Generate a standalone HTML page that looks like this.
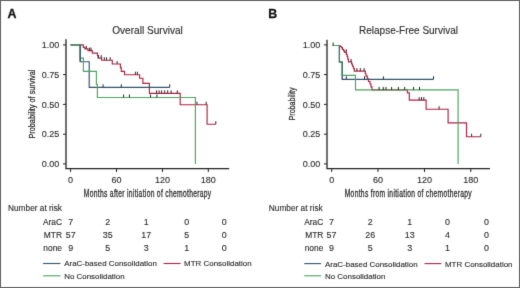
<!DOCTYPE html>
<html><head><meta charset="utf-8"><title>Survival</title><style>html,body{margin:0;padding:0;background:#fff;width:520px;height:288px;overflow:hidden;position:relative}body{font-family:"Liberation Sans", sans-serif}</style></head><body>
<svg width="520" height="288" viewBox="0 0 520 288" style="position:absolute;left:0;top:0;font-family:'Liberation Sans', sans-serif;will-change:transform">
<defs><filter id="soft" x="0" y="0" width="520" height="288" filterUnits="userSpaceOnUse" color-interpolation-filters="sRGB"><feConvolveMatrix order="3" kernelMatrix="0.01 0.08 0.01 0.08 0.64 0.08 0.01 0.08 0.01" divisor="1" edgeMode="duplicate"/></filter></defs>
<g filter="url(#soft)">
<rect x="0" y="0" width="520" height="288" fill="#fff"/>
<text x="7.4" y="17.9" font-size="12.4" text-anchor="start" font-weight="bold" fill="#111"  stroke="#111" stroke-width="0.3">A</text>
<text x="147.5" y="34.2" font-size="10.1" text-anchor="middle" font-weight="normal" fill="#2b2b2b" stroke="#2b2b2b" stroke-width="0.12" >Overall Survival</text>
<path d="M66.0,40.0 V168.6 H228.5" fill="none" stroke="#222" stroke-width="1.3" stroke-linecap="square"/>
<path d="M63.0,44.9 H66.0 M63.0,74.6 H66.0 M63.0,104.4 H66.0 M63.0,134.2 H66.0 M63.0,163.9 H66.0" fill="none" stroke="#222" stroke-width="1.0" />
<path d="M70.6,168.6 V172.0 M116.5,168.6 V172.0 M162.5,168.6 V172.0 M208.3,168.6 V172.0" fill="none" stroke="#222" stroke-width="1.0" />
<text x="59.2" y="48.0" font-size="9.0" text-anchor="end" font-weight="normal" fill="#2b2b2b" stroke="#2b2b2b" stroke-width="0.12" >1.00</text>
<text x="59.2" y="77.69999999999999" font-size="9.0" text-anchor="end" font-weight="normal" fill="#2b2b2b" stroke="#2b2b2b" stroke-width="0.12" >0.75</text>
<text x="59.2" y="107.5" font-size="9.0" text-anchor="end" font-weight="normal" fill="#2b2b2b" stroke="#2b2b2b" stroke-width="0.12" >0.50</text>
<text x="59.2" y="137.29999999999998" font-size="9.0" text-anchor="end" font-weight="normal" fill="#2b2b2b" stroke="#2b2b2b" stroke-width="0.12" >0.25</text>
<text x="59.2" y="167.0" font-size="9.0" text-anchor="end" font-weight="normal" fill="#2b2b2b" stroke="#2b2b2b" stroke-width="0.12" >0.00</text>
<text x="70.6" y="183.0" font-size="9.0" text-anchor="middle" font-weight="normal" fill="#2b2b2b" stroke="#2b2b2b" stroke-width="0.12" >0</text>
<text x="116.5" y="183.0" font-size="9.0" text-anchor="middle" font-weight="normal" fill="#2b2b2b" stroke="#2b2b2b" stroke-width="0.12" >60</text>
<text x="162.5" y="183.0" font-size="9.0" text-anchor="middle" font-weight="normal" fill="#2b2b2b" stroke="#2b2b2b" stroke-width="0.12" >120</text>
<text x="208.3" y="183.0" font-size="9.0" text-anchor="middle" font-weight="normal" fill="#2b2b2b" stroke="#2b2b2b" stroke-width="0.12" >180</text>
<text transform="translate(147.5,197.1) scale(0.66,1)" x="0" y="0" font-size="10.2" text-anchor="middle" fill="#2b2b2b" stroke="#2b2b2b" stroke-width="0.3" textLength="193.0" lengthAdjust="spacing">Months after initiation of chemotherapy</text>
<text transform="translate(35.4,104.1) rotate(-90)" x="0" y="0" font-size="9.6" text-anchor="middle" fill="#2b2b2b" stroke="#2b2b2b" stroke-width="0.25" textLength="69" lengthAdjust="spacingAndGlyphs">Probability of survival</text>
<path d="M70.6,44.9 H83.3 V47.3 H84.9 V48.9 H88 V50.6 H92.3 V53.1 H97.5 V55.6 H98.2 V58.1 H101.6 V60.2 H112.3 V64 H120.4 V67.6 H121.3 V71.3 H124.5 V74.7 H139.6 V78.2 H142.9 V83.4 H149.4 V93.3 H180.2 V104.7 H207.1 V124.2 H215.8" fill="none" stroke="#b02042" stroke-width="1.15" />
<path d="M86.3,48.9 V45.9" fill="none" stroke="#2a2a2a" stroke-width="1.0" />
<path d="M89.6,50.6 V47.6 M91.0,50.6 V47.6" fill="none" stroke="#2a2a2a" stroke-width="1.0" />
<path d="M98.4,58.1 V55.1 M101.2,58.1 V55.1" fill="none" stroke="#2a2a2a" stroke-width="1.0" />
<path d="M104.3,60.2 V57.2 M106.6,60.2 V57.2 M110.2,60.2 V57.2" fill="none" stroke="#2a2a2a" stroke-width="1.0" />
<path d="M117.1,64 V61.0" fill="none" stroke="#2a2a2a" stroke-width="1.0" />
<path d="M135.4,74.7 V71.7 M137.4,74.7 V71.7" fill="none" stroke="#2a2a2a" stroke-width="1.0" />
<path d="M156.6,93.3 V90.3 M159.1,93.3 V90.3 M161.6,93.3 V90.3 M164.7,93.3 V90.3 M167.7,93.3 V90.3 M171.1,93.3 V90.3 M177.3,93.3 V90.3" fill="none" stroke="#2a2a2a" stroke-width="1.0" />
<path d="M197.0,104.7 V101.7 M206.2,104.7 V101.7" fill="none" stroke="#2a2a2a" stroke-width="1.0" />
<path d="M215.8,124.2 V121.2" fill="none" stroke="#2a2a2a" stroke-width="1.0" />
<path d="M70.6,44.9 H80.2 V61.7 H89.2 V87.3 H169.7" fill="none" stroke="#30536f" stroke-width="1.15" />
<path d="M103.1,87.3 V84.3 M121.3,87.3 V84.3 M169.7,87.3 V84.3" fill="none" stroke="#2a2a2a" stroke-width="1.0" />
<path d="M70.6,44.9 H80.2 V58.1 H83.4 V71.3 H96.4 V84.5 H97.4 V97.5 H195.4 V163.9" fill="none" stroke="#4ea261" stroke-width="1.15" />
<path d="M123.6,97.5 V94.5 M129.4,97.5 V94.5 M150.5,97.5 V94.5 M156.9,97.5 V94.5" fill="none" stroke="#2a2a2a" stroke-width="1.0" />
<path d="M80.2,44.9 V61.7" fill="none" stroke="#30536f" stroke-width="1.15" />
<text x="8.0" y="211.3" font-size="8.3" text-anchor="start" font-weight="normal" fill="#2b2b2b" stroke="#2b2b2b" stroke-width="0.12" >Number at risk</text>
<text x="62.0" y="224.5" font-size="8.4" text-anchor="end" font-weight="normal" fill="#2b2b2b" stroke="#2b2b2b" stroke-width="0.12" >AraC</text>
<text x="70.8" y="224.5" font-size="8.9" text-anchor="middle" font-weight="normal" fill="#2b2b2b" stroke="#2b2b2b" stroke-width="0.12" >7</text>
<text x="107.8" y="224.5" font-size="8.9" text-anchor="middle" font-weight="normal" fill="#2b2b2b" stroke="#2b2b2b" stroke-width="0.12" >2</text>
<text x="146.2" y="224.5" font-size="8.9" text-anchor="middle" font-weight="normal" fill="#2b2b2b" stroke="#2b2b2b" stroke-width="0.12" >1</text>
<text x="186.6" y="224.5" font-size="8.9" text-anchor="middle" font-weight="normal" fill="#2b2b2b" stroke="#2b2b2b" stroke-width="0.12" >0</text>
<text x="224.29999999999998" y="224.5" font-size="8.9" text-anchor="middle" font-weight="normal" fill="#2b2b2b" stroke="#2b2b2b" stroke-width="0.12" >0</text>
<text x="62.0" y="237.5" font-size="8.4" text-anchor="end" font-weight="normal" fill="#2b2b2b" stroke="#2b2b2b" stroke-width="0.12" >MTR</text>
<text x="70.8" y="237.5" font-size="8.9" text-anchor="middle" font-weight="normal" fill="#2b2b2b" stroke="#2b2b2b" stroke-width="0.12" >57</text>
<text x="107.8" y="237.5" font-size="8.9" text-anchor="middle" font-weight="normal" fill="#2b2b2b" stroke="#2b2b2b" stroke-width="0.12" >35</text>
<text x="146.2" y="237.5" font-size="8.9" text-anchor="middle" font-weight="normal" fill="#2b2b2b" stroke="#2b2b2b" stroke-width="0.12" >17</text>
<text x="186.6" y="237.5" font-size="8.9" text-anchor="middle" font-weight="normal" fill="#2b2b2b" stroke="#2b2b2b" stroke-width="0.12" >5</text>
<text x="224.29999999999998" y="237.5" font-size="8.9" text-anchor="middle" font-weight="normal" fill="#2b2b2b" stroke="#2b2b2b" stroke-width="0.12" >0</text>
<text x="62.0" y="250.5" font-size="8.4" text-anchor="end" font-weight="normal" fill="#2b2b2b" stroke="#2b2b2b" stroke-width="0.12" >none</text>
<text x="70.8" y="250.5" font-size="8.9" text-anchor="middle" font-weight="normal" fill="#2b2b2b" stroke="#2b2b2b" stroke-width="0.12" >9</text>
<text x="107.8" y="250.5" font-size="8.9" text-anchor="middle" font-weight="normal" fill="#2b2b2b" stroke="#2b2b2b" stroke-width="0.12" >5</text>
<text x="146.2" y="250.5" font-size="8.9" text-anchor="middle" font-weight="normal" fill="#2b2b2b" stroke="#2b2b2b" stroke-width="0.12" >3</text>
<text x="186.6" y="250.5" font-size="8.9" text-anchor="middle" font-weight="normal" fill="#2b2b2b" stroke="#2b2b2b" stroke-width="0.12" >1</text>
<text x="224.29999999999998" y="250.5" font-size="8.9" text-anchor="middle" font-weight="normal" fill="#2b2b2b" stroke="#2b2b2b" stroke-width="0.12" >0</text>
<path d="M43.1,263.5 H60.4" fill="none" stroke="#30536f" stroke-width="1.1" />
<text x="64.2" y="266.4" font-size="7.95" text-anchor="start" font-weight="normal" fill="#2b2b2b" stroke="#2b2b2b" stroke-width="0.12" >AraC-based Consolidation</text>
<path d="M163.6,263.5 H180.6" fill="none" stroke="#b02042" stroke-width="1.1" />
<text x="184.1" y="266.4" font-size="7.95" text-anchor="start" font-weight="normal" fill="#2b2b2b" stroke="#2b2b2b" stroke-width="0.12" >MTR Consolidation</text>
<path d="M43.1,275.8 H60.4" fill="none" stroke="#4ea261" stroke-width="1.1" />
<text x="64.2" y="278.5" font-size="7.95" text-anchor="start" font-weight="normal" fill="#2b2b2b" stroke="#2b2b2b" stroke-width="0.12" >No Consolidation</text>
<text x="268.3" y="17.9" font-size="12.4" text-anchor="start" font-weight="bold" fill="#111"  stroke="#111" stroke-width="0.3">B</text>
<text x="408.5" y="34.2" font-size="10.0" text-anchor="middle" font-weight="normal" fill="#2b2b2b" stroke="#2b2b2b" stroke-width="0.12" >Relapse-Free Survival</text>
<path d="M327.0,40.5 V168.6 H489.3" fill="none" stroke="#222" stroke-width="1.3" stroke-linecap="square"/>
<path d="M324.0,44.9 H327.0 M324.0,74.6 H327.0 M324.0,104.4 H327.0 M324.0,134.2 H327.0 M324.0,163.9 H327.0" fill="none" stroke="#222" stroke-width="1.0" />
<path d="M331.7,168.6 V172.0 M378.0,168.6 V172.0 M424.5,168.6 V172.0 M470.8,168.6 V172.0" fill="none" stroke="#222" stroke-width="1.0" />
<text x="320.2" y="48.0" font-size="9.0" text-anchor="end" font-weight="normal" fill="#2b2b2b" stroke="#2b2b2b" stroke-width="0.12" >1.00</text>
<text x="320.2" y="77.69999999999999" font-size="9.0" text-anchor="end" font-weight="normal" fill="#2b2b2b" stroke="#2b2b2b" stroke-width="0.12" >0.75</text>
<text x="320.2" y="107.5" font-size="9.0" text-anchor="end" font-weight="normal" fill="#2b2b2b" stroke="#2b2b2b" stroke-width="0.12" >0.50</text>
<text x="320.2" y="137.29999999999998" font-size="9.0" text-anchor="end" font-weight="normal" fill="#2b2b2b" stroke="#2b2b2b" stroke-width="0.12" >0.25</text>
<text x="320.2" y="167.0" font-size="9.0" text-anchor="end" font-weight="normal" fill="#2b2b2b" stroke="#2b2b2b" stroke-width="0.12" >0.00</text>
<text x="331.7" y="183.0" font-size="9.0" text-anchor="middle" font-weight="normal" fill="#2b2b2b" stroke="#2b2b2b" stroke-width="0.12" >0</text>
<text x="378.0" y="183.0" font-size="9.0" text-anchor="middle" font-weight="normal" fill="#2b2b2b" stroke="#2b2b2b" stroke-width="0.12" >60</text>
<text x="424.5" y="183.0" font-size="9.0" text-anchor="middle" font-weight="normal" fill="#2b2b2b" stroke="#2b2b2b" stroke-width="0.12" >120</text>
<text x="470.8" y="183.0" font-size="9.0" text-anchor="middle" font-weight="normal" fill="#2b2b2b" stroke="#2b2b2b" stroke-width="0.12" >180</text>
<text transform="translate(408.2,197.1) scale(0.66,1)" x="0" y="0" font-size="10.2" text-anchor="middle" fill="#2b2b2b" stroke="#2b2b2b" stroke-width="0.3" textLength="192.4" lengthAdjust="spacing">Months from initiation of chemotherapy</text>
<text transform="translate(294.9,103.9) rotate(-90)" x="0" y="0" font-size="9.6" text-anchor="middle" fill="#2b2b2b" stroke="#2b2b2b" stroke-width="0.25" textLength="33.0" lengthAdjust="spacingAndGlyphs">Probability</text>
<path d="M332.1,45.5 H340.2 V46.5 H341.3 V47.6 H342.4 V49.3 H343.6 V50.9 H344.7 V52.3 H346.3 V54.3 H347.1 V56.4 H347.7 V59 H348.4 V61.9 H351.6 V64 H352.5 V66.2 H353.5 V68.5 H354.3 V71.1 H365.3 V73.7 H366 V76.1 H367.3 V78.8 H368.5 V81.5 H370 V84 H371 V86.8 H372 V89.9 H407.4 V92.8 H409.3 V100.1 H426.1 V109.2 H448.1 V122.8 H466.5 V136.7 H480.8" fill="none" stroke="#b02042" stroke-width="1.15" />
<path d="M346.3,52.3 V49.3" fill="none" stroke="#2a2a2a" stroke-width="1.0" />
<path d="M351.1,61.9 V58.9" fill="none" stroke="#2a2a2a" stroke-width="1.0" />
<path d="M356.9,71.1 V68.1 M360.3,71.1 V68.1 M364.1,71.1 V68.1" fill="none" stroke="#2a2a2a" stroke-width="1.0" />
<path d="M419.2,100.1 V97.1 M421.5,100.1 V97.1 M423.8,100.1 V97.1" fill="none" stroke="#2a2a2a" stroke-width="1.0" />
<path d="M439.1,109.2 V106.2" fill="none" stroke="#2a2a2a" stroke-width="1.0" />
<path d="M471.6,136.7 V133.7 M480.8,136.7 V133.7" fill="none" stroke="#2a2a2a" stroke-width="1.0" />
<path d="M332.1,45.5 H339.4 V62 H342.2 V79.3 H433.5" fill="none" stroke="#30536f" stroke-width="1.15" />
<path d="M346.3,79.3 V76.3 M364.5,79.3 V76.3 M383.4,79.3 V76.3 M433.5,79.3 V76.3" fill="none" stroke="#2a2a2a" stroke-width="1.0" />
<path d="M332.1,45.5 H339.4 V62 H342.2 V75.4 H355.5 V89.9 H458.1 V163.9" fill="none" stroke="#4ea261" stroke-width="1.15" />
<path d="M333.2,45.5 V42.5" fill="none" stroke="#2a2a2a" stroke-width="1.0" />
<path d="M379.1,89.9 V86.9 M383.3,89.9 V86.9 M386.0,89.9 V86.9 M391.6,89.9 V86.9 M398.3,89.9 V86.9 M404.7,89.9 V86.9 M413.5,89.9 V86.9 M419.5,89.9 V86.9" fill="none" stroke="#2a2a2a" stroke-width="1.0" />
<path d="M339.4,45.5 V62 H342.2 V79.3" fill="none" stroke="#30536f" stroke-width="1.0" opacity="0.6"/>
<text x="268.8" y="211.3" font-size="8.3" text-anchor="start" font-weight="normal" fill="#2b2b2b" stroke="#2b2b2b" stroke-width="0.12" >Number at risk</text>
<text x="323.3" y="224.5" font-size="8.4" text-anchor="end" font-weight="normal" fill="#2b2b2b" stroke="#2b2b2b" stroke-width="0.12" >AraC</text>
<text x="331.5" y="224.5" font-size="8.9" text-anchor="middle" font-weight="normal" fill="#2b2b2b" stroke="#2b2b2b" stroke-width="0.12" >7</text>
<text x="370.2" y="224.5" font-size="8.9" text-anchor="middle" font-weight="normal" fill="#2b2b2b" stroke="#2b2b2b" stroke-width="0.12" >2</text>
<text x="409.8" y="224.5" font-size="8.9" text-anchor="middle" font-weight="normal" fill="#2b2b2b" stroke="#2b2b2b" stroke-width="0.12" >1</text>
<text x="447.5" y="224.5" font-size="8.9" text-anchor="middle" font-weight="normal" fill="#2b2b2b" stroke="#2b2b2b" stroke-width="0.12" >0</text>
<text x="486.5" y="224.5" font-size="8.9" text-anchor="middle" font-weight="normal" fill="#2b2b2b" stroke="#2b2b2b" stroke-width="0.12" >0</text>
<text x="323.3" y="237.5" font-size="8.4" text-anchor="end" font-weight="normal" fill="#2b2b2b" stroke="#2b2b2b" stroke-width="0.12" >MTR</text>
<text x="331.5" y="237.5" font-size="8.9" text-anchor="middle" font-weight="normal" fill="#2b2b2b" stroke="#2b2b2b" stroke-width="0.12" >57</text>
<text x="370.2" y="237.5" font-size="8.9" text-anchor="middle" font-weight="normal" fill="#2b2b2b" stroke="#2b2b2b" stroke-width="0.12" >26</text>
<text x="409.8" y="237.5" font-size="8.9" text-anchor="middle" font-weight="normal" fill="#2b2b2b" stroke="#2b2b2b" stroke-width="0.12" >13</text>
<text x="447.5" y="237.5" font-size="8.9" text-anchor="middle" font-weight="normal" fill="#2b2b2b" stroke="#2b2b2b" stroke-width="0.12" >4</text>
<text x="486.5" y="237.5" font-size="8.9" text-anchor="middle" font-weight="normal" fill="#2b2b2b" stroke="#2b2b2b" stroke-width="0.12" >0</text>
<text x="323.3" y="250.5" font-size="8.4" text-anchor="end" font-weight="normal" fill="#2b2b2b" stroke="#2b2b2b" stroke-width="0.12" >none</text>
<text x="331.5" y="250.5" font-size="8.9" text-anchor="middle" font-weight="normal" fill="#2b2b2b" stroke="#2b2b2b" stroke-width="0.12" >9</text>
<text x="370.2" y="250.5" font-size="8.9" text-anchor="middle" font-weight="normal" fill="#2b2b2b" stroke="#2b2b2b" stroke-width="0.12" >5</text>
<text x="409.8" y="250.5" font-size="8.9" text-anchor="middle" font-weight="normal" fill="#2b2b2b" stroke="#2b2b2b" stroke-width="0.12" >3</text>
<text x="447.5" y="250.5" font-size="8.9" text-anchor="middle" font-weight="normal" fill="#2b2b2b" stroke="#2b2b2b" stroke-width="0.12" >1</text>
<text x="486.5" y="250.5" font-size="8.9" text-anchor="middle" font-weight="normal" fill="#2b2b2b" stroke="#2b2b2b" stroke-width="0.12" >0</text>
<path d="M304.2,263.6 H321.1" fill="none" stroke="#30536f" stroke-width="1.1" />
<text x="325.0" y="266.5" font-size="7.95" text-anchor="start" font-weight="normal" fill="#2b2b2b" stroke="#2b2b2b" stroke-width="0.12" >AraC-based Consolidation</text>
<path d="M424.5,263.6 H441.3" fill="none" stroke="#b02042" stroke-width="1.1" />
<text x="445.0" y="266.5" font-size="7.95" text-anchor="start" font-weight="normal" fill="#2b2b2b" stroke="#2b2b2b" stroke-width="0.12" >MTR Consolidation</text>
<path d="M304.2,275.8 H321.1" fill="none" stroke="#4ea261" stroke-width="1.1" />
<text x="325.0" y="278.5" font-size="7.95" text-anchor="start" font-weight="normal" fill="#2b2b2b" stroke="#2b2b2b" stroke-width="0.12" >No Consolidation</text>
<rect x="0.5" y="0.5" width="519" height="287" fill="none" stroke="#606060" stroke-width="1"/>
</g>
</svg>
</body></html>
